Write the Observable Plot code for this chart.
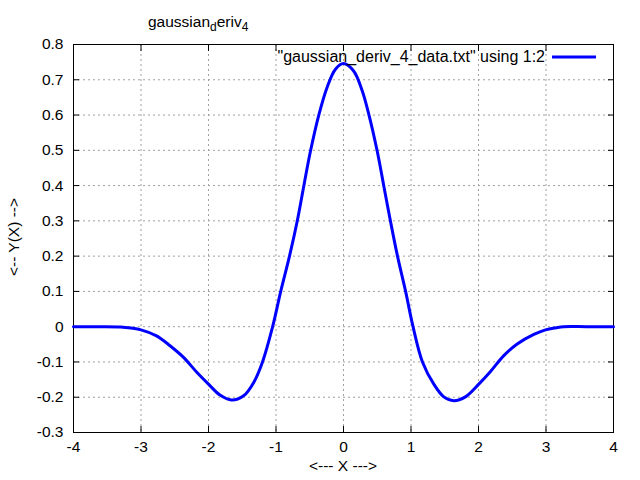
<!DOCTYPE html>
<html><head><meta charset="utf-8">
<script src="https://cdn.jsdelivr.net/npm/d3@7"></script>
<script src="https://cdn.jsdelivr.net/npm/@observablehq/plot@0.6"></script>
<style>body{margin:0;background:#fff} #chart{width:640px;height:480px}</style>
</head><body><div id="chart"></div>
<script>
const xValues = [-4, -3.6, -3.3, -3.15, -3.0, -2.77, -2.57, -2.37, -2.17, -2.0, -1.83, -1.66, -1.48, -1.33, -1.2, -1.05, -0.93, -0.8, -0.686, -0.588, -0.489, -0.366, -0.242, -0.119, 0, 0.15, 0.277, 0.375, 0.499, 0.597, 0.696, 0.8, 0.92, 1.03, 1.17, 1.338, 1.486, 1.634, 1.807, 2.004, 2.178, 2.375, 2.573, 2.82, 2.993, 3.15, 3.26, 3.6, 4];
const yValues = [0, 0, -0.001, -0.004, -0.009, -0.026, -0.054, -0.087, -0.13, -0.163, -0.194, -0.208, -0.196, -0.158, -0.1, 0, 0.1, 0.2, 0.299, 0.399, 0.498, 0.6, 0.679, 0.73, 0.746, 0.725, 0.669, 0.602, 0.498, 0.399, 0.299, 0.2, 0.1, 0, -0.1, -0.163, -0.199, -0.21, -0.199, -0.163, -0.127, -0.082, -0.049, -0.022, -0.009, -0.003, 0, 0, 0];
const xTicks = [-4, -3, -2, -1, 0, 1, 2, 3, 4];
const yTicks = [-0.3, -0.2, -0.1, 0, 0.1, 0.2, 0.3, 0.4, 0.5, 0.6, 0.7, 0.8];
const titleMain = ["gaussian", "eriv"];
const titleSubs = ["d", "4"];
const seriesLabel = '"gaussian_deriv_4_data.txt" using 1:2';
const xLabel = "<--- X --->";
const yLabel = "<-- Y(X) -->";

const data = xValues.map((x, i) => ({x, y: yValues[i]}));
const fmt = d => String(d);
const FONT = "'Liberation Sans', Arial, sans-serif";
const gridStyle = {stroke: "#a0a0a0", strokeOpacity: 1, strokeDasharray: "2,3", strokeWidth: 1};

const chart = Plot.plot({
  width: 640, height: 480,
  marginLeft: 73, marginRight: 27, marginTop: 44, marginBottom: 48,
  style: {fontFamily: FONT, fontSize: "15.5px", background: "#fff", color: "#000"},
  x: {domain: [-4, 4]},
  y: {domain: [-0.3, 0.8]},
  marks: [
    Plot.gridX(xTicks, gridStyle),
    Plot.gridY(yTicks, gridStyle),
    Plot.frame({stroke: "#000"}),
    Plot.axisX(xTicks, {anchor: "bottom", tickSize: -6, fill: "none", label: null}),
    Plot.axisX(xTicks, {anchor: "top", tickSize: -6, fill: "none", label: null}),
    Plot.axisY(yTicks, {anchor: "left", tickSize: -6, fill: "none", label: null}),
    Plot.axisY(yTicks, {anchor: "right", tickSize: -6, fill: "none", label: null}),
    Plot.axisX(xTicks, {anchor: "bottom", tickSize: 0, tickPadding: 8, tickFormat: fmt, label: null}),
    Plot.axisY(yTicks, {anchor: "left", tickSize: 0, tickPadding: 10, tickFormat: fmt, label: null}),
    Plot.line(data, {x: "x", y: "y", stroke: "#0000ff", strokeWidth: 3, curve: "catmull-rom"})
  ]
});
document.getElementById("chart").appendChild(chart);

const svg = d3.select(chart);
const g = svg.append("g").attr("font-family", FONT).attr("fill", "#000");
// title with subscripts
const t = g.append("text").attr("x", 148).attr("y", 27).attr("text-anchor", "start").attr("font-size", 15.5);
t.append("tspan").text(titleMain[0]);
t.append("tspan").attr("dy", 4).attr("font-size", 12).text(titleSubs[0]);
t.append("tspan").attr("dy", -4).text(titleMain[1]);
t.append("tspan").attr("dy", 4).attr("font-size", 12).text(titleSubs[1]);
// legend
g.append("text").attr("x", 545).attr("y", 61.5).attr("text-anchor", "end").attr("font-size", 16).text(seriesLabel);
g.append("line").attr("x1", 552).attr("x2", 596).attr("y1", 57).attr("y2", 57).attr("stroke", "#0000ff").attr("stroke-width", 3);
// axis labels
g.append("text").attr("x", 343).attr("y", 471).attr("text-anchor", "middle").attr("font-size", 15.5).text(xLabel);
g.append("text").attr("transform", "translate(19,237) rotate(-90)").attr("text-anchor", "middle").attr("font-size", 15.5).text(yLabel);
</script>
</body></html>
